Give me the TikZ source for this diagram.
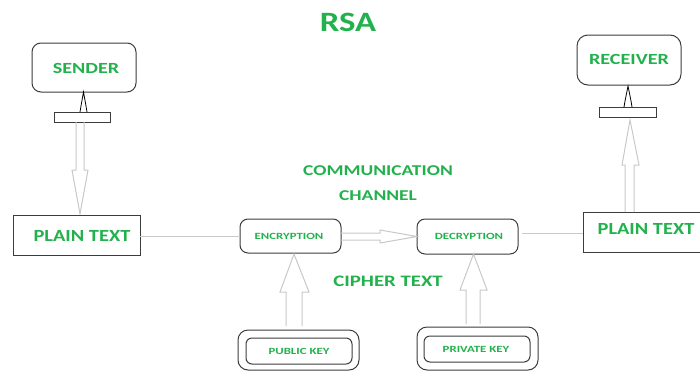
\documentclass[tikz,border=0pt]{standalone}
\usepackage{fontspec}
\setmainfont{Carlito}
\newfontfamily\fsA[FakeStretch=1.24]{Carlito}
\newfontfamily\fsB[FakeStretch=1.2]{Carlito}
\newfontfamily\fsC[FakeStretch=1.3]{Carlito}
\newfontfamily\fsD[FakeStretch=1.35]{Carlito}
\usetikzlibrary{calc}
\definecolor{txtgreen}{RGB}{34,177,76}
\definecolor{boxline}{RGB}{60,60,60}
\definecolor{pipe}{RGB}{200,200,200}
\tikzset{
  lbl/.style={text=txtgreen, inner sep=0pt},
  titlefont/.style={font=\fsA\bfseries\fontsize{28}{30}\selectfont},
  plainfont/.style={font=\fsB\bfseries\fontsize{17}{19}\selectfont},
  midfont/.style={font=\fsC\bfseries\fontsize{15}{17}\selectfont},
  smallfont/.style={font=\fsD\bfseries\fontsize{9.5}{11}\selectfont},
  plainbox/.style={draw=boxline, line width=1pt},
  roundbox/.style={draw=boxline, line width=1pt, rounded corners=9pt},
  bar/.style={draw=boxline, line width=1pt},
  pipearrow/.style={draw=pipe, line width=1pt, line join=miter},
  link/.style={draw=pipe, line width=1pt},
  tick/.style={draw=black, line width=0.8pt}
}
\begin{document}
\begin{tikzpicture}[x=1pt, y=-1pt]
\useasboundingbox (0,0) rectangle (700,370);
\clip (0,0) rectangle (700,370);

% title
\node[lbl, titlefont] (title) at (348,22) {RSA};

% sender side
\draw[roundbox] (32,43) rectangle (136,92);
\node[lbl, midfont, font=\fsC\bfseries\fontsize{15.5}{17}\selectfont] (sender) at (86,68) {SENDER};
\draw[bar] (54,112) rectangle (110,122);
\draw[tick] (80,112) -- (81,106) -- (83.5,92) -- (86,106) -- (87,112);

\draw[pipearrow] (76,122) -- (76,170) -- (72,170) -- (80,214) -- (88,170) -- (84,170) -- (84,122);

\draw[plainbox] (13,215) rectangle (140,255);
\node[lbl, plainfont] (plainL) at (82,236) {PLAIN TEXT};
\coordinate (plainLe) at (140,236);

% channel
\draw[roundbox, rounded corners=8pt] (240,219) rectangle (341,253);
\node[lbl, smallfont] (enc) at (289,236.5) {ENCRYPTION};
\coordinate (encw) at (240,236);

\draw[roundbox, rounded corners=8pt] (417,219) rectangle (518,254);
\node[lbl, smallfont] (dec) at (469,236.5) {DECRYPTION};
\coordinate (dece) at (522,233);

\draw[link] (plainLe) -- (encw);

\draw[pipearrow] (341,233) -- (380,233) -- (380,230) -- (417,236.5) -- (380,243) -- (380,240) -- (341,240);

\node[lbl, midfont] (comm) at (378,171) {COMMUNICATION};
\node[lbl, midfont] (chan) at (378,196) {CHANNEL};
\node[lbl, midfont, font=\fsC\bfseries\fontsize{16}{18}\selectfont] (cipher) at (388,281) {CIPHER TEXT};

% keys
\draw[pipearrow] (286,326) -- (286,292) -- (280,292) -- (294,254) -- (309,292) -- (302,292) -- (302,326);
\draw[roundbox, rounded corners=10pt] (238,330) rectangle (359,370);
\draw[roundbox, rounded corners=6pt] (246,338) rectangle (352,364);
\node[lbl, smallfont] (pub) at (299,351.5) {PUBLIC KEY};

\draw[pipearrow] (466,324) -- (466,290) -- (460,290) -- (473.5,254) -- (487,290) -- (480,290) -- (480,324);
\draw[roundbox, rounded corners=10pt] (417,327) rectangle (538,370);
\draw[roundbox, rounded corners=6pt] (424,336) rectangle (530,362);
\node[lbl, smallfont] (priv) at (476,349.5) {PRIVATE KEY};

% receiver side
\draw[plainbox] (583,212) rectangle (712,252);
\node[lbl, plainfont] (plainR) at (646,228.5) {PLAIN TEXT};
\coordinate (plainRw) at (583,233);
\draw[link] (dece) -- (plainRw);

\draw[pipearrow] (625,212) -- (625,165) -- (622,165) -- (630,120) -- (639,165) -- (634,165) -- (634,212);

\draw[bar] (599,107) rectangle (656,117);
\draw[tick] (624,107) -- (625,101) -- (628,86) -- (631,101) -- (632,107);

\draw[roundbox, rounded corners=11pt] (577,35) rectangle (681,85);
\node[lbl, midfont, font=\fsC\bfseries\fontsize{15.5}{17}\selectfont] (recv) at (629,59.5) {RECEIVER};
\end{tikzpicture}
\end{document}
